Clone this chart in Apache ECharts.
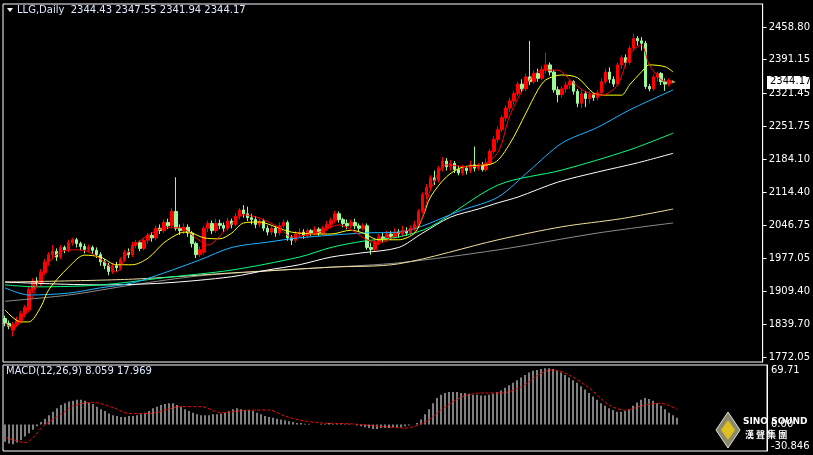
<!DOCTYPE html>
<html>
<head>
<meta charset="utf-8">
<script src="https://cdn.jsdelivr.net/npm/echarts@6/dist/echarts.min.js"></script>
<style>
  html, body { margin: 0; padding: 0; background: #000; }
  #chart { width: 813px; height: 455px; }
</style>
</head>
<body>
<div id="chart"></div>
<script>
// OHLC per day as [open, close, low, high]
const candles = [
  [1852,1842,1836,1858],[1842,1836,1830,1848],[1828,1840,1815,1845],[1840,1848,1835,1856],
  [1848,1862,1842,1868],[1862,1875,1855,1880],[1870,1912,1865,1918],[1912,1930,1905,1936],
  [1930,1926,1918,1938],[1926,1948,1920,1955],[1948,1970,1942,1976],[1970,1985,1962,1990],
  [1985,1992,1975,2005],[1992,1980,1972,1998],[1980,2000,1975,2005],[2000,1995,1988,2004],
  [1995,2010,1990,2016],[2010,2016,2004,2020],[2016,2008,2000,2020],[2008,2002,1994,2012],
  [2002,1996,1988,2008],[1996,2000,1990,2006],[2000,1994,1986,2004],[1994,1985,1978,2000],
  [1985,1970,1962,1990],[1970,1962,1955,1976],[1962,1950,1942,1968],[1950,1962,1945,1968],
  [1962,1958,1950,1970],[1958,1975,1952,1980],[1975,1990,1970,1995],[1990,1985,1978,1998],
  [1985,2005,1980,2012],[2005,2010,1998,2016],[2010,1998,1992,2014],[1998,2015,1994,2020],
  [2015,2025,2008,2030],[2025,2020,2012,2032],[2020,2040,2015,2046],[2040,2035,2028,2048],
  [2035,2052,2030,2058],[2052,2045,2038,2060],[2045,2075,2040,2082],[2075,2040,2035,2146],
  [2040,2035,2026,2048],[2035,2042,2028,2050],[2042,2030,2022,2048],[2030,2008,2000,2034],
  [2008,1985,1978,2012],[1985,1995,1980,2002],[1990,2040,1985,2045],[2040,2050,2032,2056],
  [2050,2035,2028,2056],[2035,2050,2030,2060],[2050,2046,2038,2058],[2046,2040,2032,2052],
  [2040,2055,2035,2062],[2055,2048,2040,2060],[2048,2065,2044,2072],[2065,2078,2058,2082],
  [2078,2070,2062,2088],[2070,2062,2055,2085],[2062,2058,2048,2070],[2058,2048,2040,2065],
  [2048,2055,2042,2060],[2055,2040,2034,2060],[2040,2032,2025,2046],[2032,2040,2026,2046],
  [2040,2030,2022,2044],[2030,2045,2025,2052],[2045,2052,2040,2058],[2052,2020,2014,2056],
  [2020,2015,2005,2026],[2015,2028,2010,2034],[2028,2032,2020,2040],[2032,2025,2018,2038],
  [2025,2035,2020,2040],[2035,2030,2024,2038],[2030,2038,2025,2044],[2038,2030,2024,2042],
  [2030,2040,2026,2045],[2040,2048,2034,2055],[2048,2056,2040,2062],[2056,2070,2050,2076],
  [2070,2058,2052,2075],[2058,2050,2042,2062],[2050,2045,2038,2058],[2045,2052,2040,2058],
  [2052,2045,2038,2060],[2045,2040,2032,2050],[2040,2045,2035,2050],[2045,2000,1995,2050],
  [2000,1996,1985,2010],[1996,2012,1990,2018],[2012,2022,2005,2028],[2022,2018,2010,2030],
  [2018,2028,2012,2035],[2028,2022,2016,2034],[2022,2032,2018,2040],[2032,2028,2020,2038],
  [2028,2035,2022,2045],[2035,2030,2024,2042],[2030,2040,2026,2046],[2040,2048,2034,2055],
  [2048,2075,2042,2080],[2075,2110,2070,2115],[2110,2125,2100,2132],[2125,2145,2118,2150],
  [2145,2140,2130,2160],[2140,2165,2135,2170],[2165,2180,2158,2188],[2180,2168,2160,2186],
  [2168,2175,2160,2182],[2175,2162,2155,2180],[2162,2155,2150,2170],[2155,2165,2150,2172],
  [2165,2160,2152,2170],[2160,2172,2155,2180],[2172,2165,2158,2210],[2165,2172,2160,2176],
  [2172,2162,2158,2178],[2162,2175,2158,2185],[2175,2200,2170,2205],[2200,2225,2195,2232],
  [2225,2245,2218,2252],[2245,2270,2240,2275],[2270,2290,2262,2296],[2290,2305,2282,2312],
  [2305,2320,2298,2326],[2320,2340,2315,2345],[2340,2330,2322,2350],[2330,2355,2325,2362],
  [2355,2345,2338,2430],[2345,2362,2340,2368],[2362,2352,2345,2372],[2352,2370,2348,2378],
  [2370,2380,2362,2405],[2380,2365,2358,2385],[2365,2328,2322,2370],[2328,2318,2302,2335],
  [2318,2330,2312,2336],[2330,2338,2322,2345],[2338,2345,2330,2350],[2345,2325,2318,2348],
  [2325,2300,2292,2330],[2300,2320,2290,2328],[2320,2310,2292,2326],[2310,2318,2300,2325],
  [2318,2312,2305,2322],[2312,2322,2306,2328],[2322,2345,2318,2352],[2345,2365,2340,2372],
  [2365,2350,2342,2375],[2350,2340,2334,2356],[2340,2380,2336,2385],[2380,2395,2372,2400],
  [2395,2385,2378,2402],[2385,2415,2380,2420],[2415,2435,2410,2445],[2435,2430,2420,2440],
  [2430,2425,2410,2438],[2425,2335,2330,2430],[2335,2330,2325,2340],[2330,2355,2326,2360],
  [2355,2362,2345,2366],[2362,2345,2338,2365],[2345,2340,2326,2352],[2340,2348,2335,2352],
  [2344.43,2344.17,2341.94,2347.55]
];

// moving averages as [bar index, price]
const maYellow = [[0,1870],[4,1845],[6,1845],[9,1876],[11,1912],[16,1959],[20,1984],[24,1980],[28,1964],[32,1964],[36,1978],[40,2010],[44,2030],[46,2032],[50,2020],[54,2018],[57,2030],[60,2051],[64,2053],[68,2043],[72,2032],[78,2028],[82,2028],[87,2036],[90,2030],[94,2016],[99,2016],[103,2030],[105,2063],[107,2105],[111,2147],[115,2167],[123,2176],[127,2217],[131,2280],[134,2328],[136,2349],[140,2359],[144,2353],[148,2321],[151,2317],[155,2317],[157,2338],[160,2365],[162,2380],[166,2376],[168,2365]];
const maRed = [[0,1843],[2,1832],[6,1880],[10,1957],[14,1991],[18,1995],[21,1991],[25,1970],[28,1949],[31,1991],[36,2026],[41,2041],[44,2041],[48,2020],[51,2005],[56,2041],[60,2068],[64,2061],[69,2041],[72,2022],[79,2032],[84,2047],[88,2032],[91,2016],[94,2009],[99,2030],[104,2047],[107,2120],[111,2172],[116,2168],[120,2172],[124,2199],[127,2276],[131,2338],[135,2369],[139,2369],[142,2349],[146,2324],[150,2317],[154,2338],[157,2401],[160,2421],[162,2380],[165,2349],[168,2344]];
const maBlue = [[0,1916],[6,1901],[16,1905],[24,1916],[32,1926],[40,1947],[49,1974],[57,2000],[66,2011],[74,2020],[90,2030],[99,2032],[115,2078],[124,2105],[132,2161],[140,2217],[149,2250],[157,2286],[168,2328]];
const maGreen = [[0,1922],[8,1918],[24,1922],[40,1937],[57,1953],[74,1980],[82,2000],[90,2013],[99,2022],[107,2043],[124,2130],[140,2161],[157,2203],[168,2238]];
const maWhite = [[0,1928],[24,1922],[40,1926],[57,1939],[66,1953],[74,1964],[82,1980],[90,1989],[99,2000],[105,2030],[112,2063],[119,2080],[124,2093],[129,2105],[139,2136],[149,2157],[159,2176],[168,2196]];
const maCream = [[0,1928],[32,1934],[57,1947],[82,1959],[99,1966],[124,2016],[140,2043],[155,2060],[168,2080]];
const maGray = [[0,1888],[16,1901],[32,1922],[49,1941],[66,1951],[82,1959],[99,1968],[124,1995],[149,2030],[168,2051]];

const macdHist = [
  -20,-22,-23,-21,-18,-14, -10,-6,-2,3, 7,11,15,19,23, 25,27,28,29,29,28,
  26,24,21,18,16, 13,11,10,9,9,10, 10,11,12,14,16,19, 21,23,24,25,25,23,
  21,18,16,14,12,11,11, 11,12,12,13,14, 16,18,19,18,17,17,16, 14,12,10,9,8,7,
  6,5,4,3,2,2, 1,1,0,0,1,1,2,1, 2,2,1,1,0,-1,-2,-3, -4,-5,-5,-4,-4,-4,-3,-3,-3,-2,
  -1,0,2,6, 12,18,25,31,35, 37,38,38,38,37, 37,36,35,35,34,34,35,36, 38,40,43,46,
  49,52,55,58,61, 63,64,65,66,66,65, 63,61,58,55,52,49, 45,41,37,33,29,25,22,
  19,17,15,15,16, 18,22,26,29,31,30, 28,25,22,18,14,11,8.059
];
const macdSignal = [[0,-15],[3,-19],[5,-21],[10,0],[15,15],[17,22],[22,26],[27,20],[31,13],[36,13],[44,21],[49,21],[54,14],[61,17],[66,17],[70,10],[74,5],[79,2],[86,1],[94,-2],[100,-4],[105,3],[109,17],[114,32],[119,37],[124,37],[129,44],[134,60],[137,64],[141,58],[146,43],[151,23],[155,17],[160,23],[164,25],[168,17.969]];

const priceTicks = [1772.05,1839.70,1909.40,1977.05,2046.75,2114.40,2184.10,2251.75,2321.45,2391.15,2458.80];
const macdTicks = [-30.846, 0, 69.71];
const lastPrice = 2344.17;

const slots = [];
for (let i = 0; i < 191; i++) slots.push(String(i));

const FONT = 'DejaVu Sans';
const chart = echarts.init(document.getElementById('chart'));

function ma(data, color, width) {
  return {
    type: 'line', data: data, xAxisIndex: 0, yAxisIndex: 0,
    symbol: 'none', smooth: 0.3, silent: true,
    lineStyle: { color: color, width: width || 1 }
  };
}

chart.setOption({
  backgroundColor: '#000',
  animation: false,
  grid: [
    { left: 3, right: 46, top: 4, height: 358, show: true, borderColor: '#fff', borderWidth: 1 },
    { left: 3, right: 46, top: 365, bottom: 4, show: true, borderColor: '#fff', borderWidth: 1 }
  ],
  xAxis: [
    { type: 'category', data: slots, gridIndex: 0, boundaryGap: true, show: false },
    { type: 'category', data: slots, gridIndex: 1, boundaryGap: true, show: false }
  ],
  yAxis: [
    {
      type: 'value', gridIndex: 0, position: 'right', min: 1761.6, max: 2506.7,
      splitLine: { show: false },
      axisLine: { show: true, lineStyle: { color: '#fff' } },
      axisTick: { show: true, length: 4, lineStyle: { color: '#fff' }, customValues: priceTicks },
      axisLabel: { color: '#fff', fontSize: 10, fontFamily: FONT, margin: 6,
        customValues: priceTicks, formatter: v => v.toFixed(2) }
    },
    {
      type: 'value', gridIndex: 1, position: 'right', min: -30.846, max: 69.71,
      splitLine: { show: false },
      axisLine: { show: true, lineStyle: { color: '#fff' } },
      axisTick: { show: false },
      axisLabel: { color: '#fff', fontSize: 10, fontFamily: FONT, margin: 4,
        customValues: macdTicks, formatter: v => v === 0 ? '0.00' : String(v),
        showMinLabel: true, showMaxLabel: true,
        verticalAlignMinLabel: 'bottom', verticalAlignMaxLabel: 'top' }
    }
  ],
  series: [
    ma(maGray, '#8c8c8c'),
    ma(maCream, '#f0e0a0'),
    ma(maWhite, '#ffffff'),
    ma(maGreen, '#00ff80'),
    ma(maBlue, '#1eb4ff'),
    {
      type: 'candlestick', data: candles, xAxisIndex: 0, yAxisIndex: 0, barWidth: 3,
      itemStyle: { color: '#ff0000', color0: '#98fb98', borderColor: '#ff0000', borderColor0: '#98fb98', borderWidth: 1 }
    },
    ma(maYellow, '#ffff00'),
    ma(maRed, '#ff0000'),
    {
      type: 'bar', data: macdHist, xAxisIndex: 1, yAxisIndex: 1, barWidth: 1,
      itemStyle: { color: '#ffffff' }
    },
    {
      type: 'line', data: macdSignal, xAxisIndex: 1, yAxisIndex: 1, symbol: 'none', smooth: 0.3,
      lineStyle: { color: '#ff0000', width: 1, type: [3, 2] }
    }
  ]
});

// top-left captions, current price box, logo
const y = chart.convertToPixel({ yAxisIndex: 0 }, lastPrice);
chart.setOption({
  graphic: [
    { type: 'polygon', shape: { points: [[7, 8], [13, 8], [10, 12]] }, style: { fill: '#fff' } },
    { type: 'text', left: 17, top: 5, style: { text: 'LLG,Daily  2344.43 2347.55 2341.94 2344.17', fill: '#dfe8ff', font: '10px ' + FONT } },
    { type: 'text', left: 6, top: 366, style: { text: 'MACD(12,26,9) 8.059 17.969', fill: '#dfe8ff', font: '10px ' + FONT } },
    { type: 'rect', shape: { x: 767, y: y - 6, width: 43, height: 13 }, style: { fill: '#fff' } },
    { type: 'text', x: 770, y: y - 6, style: { text: lastPrice.toFixed(2), fill: '#000', font: '10px ' + FONT } },
    { type: 'polygon', shape: { points: [[728, 412], [740, 430], [728, 448], [716, 430]] }, style: { fill: '#8a8a6a', stroke: '#ddd', lineWidth: 1 } },
    { type: 'polygon', shape: { points: [[728, 420], [735, 430], [728, 440], [721, 430]] }, style: { fill: '#e0c020' } },
    { type: 'text', x: 743, y: 417, style: { text: 'SINO SOUND', fill: '#fff', font: 'bold 9px ' + FONT } },
    { type: 'text', x: 745, y: 430, style: { text: '漢 聲 集 團', fill: '#fff', font: 'bold 9px "Noto Sans CJK TC"' } }
  ]
});
</script>
</body>
</html>
